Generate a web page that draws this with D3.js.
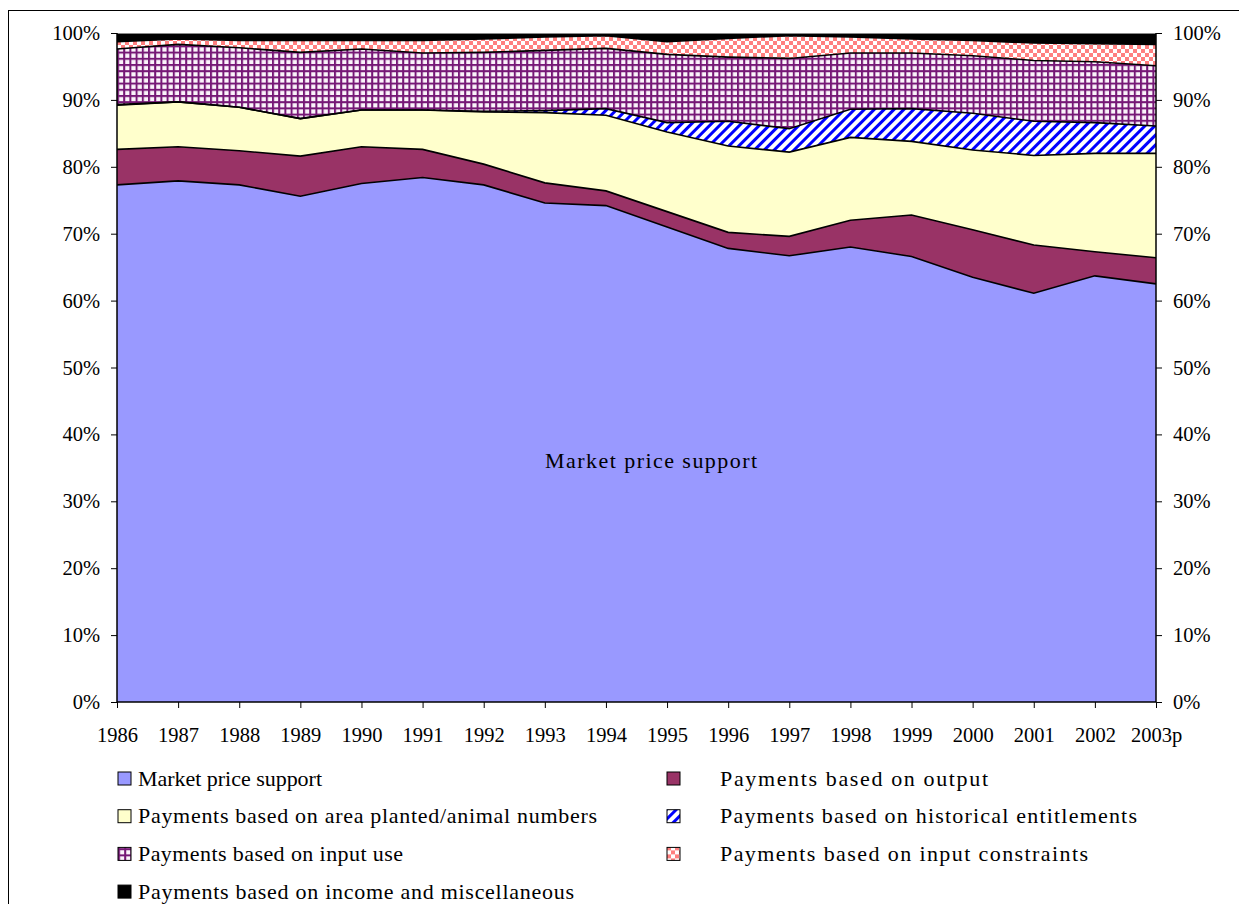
<!DOCTYPE html>
<html>
<head>
<meta charset="utf-8">
<script src="https://cdn.jsdelivr.net/npm/d3@7"></script>
<style>
  body { margin: 0; background: #fff; }
  svg { display: block; font-family: "Liberation Serif", "Times New Roman", serif; }
</style>
</head>
<body>
<script>
// categories
let years = ["1986", "1987", "1988", "1989", "1990", "1991", "1992", "1993", "1994",
    "1995", "1996", "1997", "1998", "1999", "2000", "2001", "2002", "2003p"];

// series values (% of total support)
let mps = [77.3, 77.9, 77.3, 75.6, 77.5, 78.4, 77.3, 74.6, 74.2, 71.0, 67.8, 66.7, 68.0, 66.6, 63.5, 61.1, 63.7, 62.5];
let output = [5.3, 5.1, 5.1, 6.0, 5.5, 4.2, 3.1, 3.0, 2.2, 2.3, 2.4, 2.9, 4.0, 6.2, 7.1, 7.2, 3.6, 3.9];
let area = [6.6, 6.7, 6.5, 5.6, 5.5, 5.9, 7.8, 10.5, 11.3, 11.9, 12.9, 12.6, 12.4, 11.0, 11.9, 13.4, 14.7, 15.6];
let hist = [0.1, 0, 0, 0, 0, 0, 0.1, 0.3, 1.0, 1.4, 3.7, 3.5, 4.2, 4.9, 5.5, 5.1, 4.6, 4.1];
let inputUse = [8.3, 8.6, 8.9, 9.9, 9.1, 8.5, 8.8, 9.0, 9.0, 10.2, 9.6, 10.5, 8.4, 8.3, 8.6, 9.1, 9.1, 9.0];
let inputConstr = [1.1, 0.8, 1.1, 1.8, 1.3, 1.9, 2.0, 2.0, 1.9, 1.9, 2.8, 3.4, 2.4, 2.1, 2.3, 2.6, 2.7, 3.2];
let incomeMisc = [1.3, 0.9, 1.1, 1.1, 1.1, 1.1, 0.9, 0.6, 0.4, 1.3, 0.8, 0.4, 0.6, 0.9, 1.1, 1.5, 1.6, 1.7];

let yTicks = [0, 0.1, 0.2, 0.3, 0.4, 0.5, 0.6, 0.7, 0.8, 0.9, 1];

let seriesNames = [
    "Market price support",
    "Payments based on output",
    "Payments based on area planted/animal numbers",
    "Payments based on historical entitlements",
    "Payments based on input use",
    "Payments based on input constraints",
    "Payments based on income and miscellaneous"
];
let seriesValues = [mps, output, area, hist, inputUse, inputConstr, incomeMisc];
let seriesFills = ["#9999ff", "#993366", "#ffffcc", "url(#pHist)", "url(#pInput)", "url(#pConstr)", "#000000"];
// rendered widths of the legend labels (the original font is set wider)
let legendWidths = [184, 268, 459, 417, 265, 368, 436];

let W = 1239, H = 904;
let margin = { top: 33, left: 117, right: 1239 - 1156, bottom: 904 - 702 };
let width = W - margin.left - margin.right;
let height = H - margin.top - margin.bottom;

let table = years.map(function (yr, i) {
    let row = { year: yr };
    seriesNames.forEach(function (n, k) { row[n] = seriesValues[k][i]; });
    return row;
});

let svg = d3.select("body").append("svg")
    .attr("width", W)
    .attr("height", H);

// patterns
let defs = svg.append("defs");

let pInput = defs.append("pattern").attr("id", "pInput")
    .attr("patternUnits", "userSpaceOnUse").attr("width", 6.2).attr("height", 6.2);
pInput.append("rect").attr("width", 6.2).attr("height", 6.2).attr("fill", "#fbf4fb");
pInput.append("rect").attr("width", 2).attr("height", 6.2).attr("fill", "#761876");
pInput.append("rect").attr("width", 6.2).attr("height", 2).attr("fill", "#761876");

let pConstr = defs.append("pattern").attr("id", "pConstr")
    .attr("patternUnits", "userSpaceOnUse").attr("width", 8).attr("height", 8);
pConstr.append("rect").attr("width", 8).attr("height", 8).attr("fill", "#ffffff");
pConstr.append("rect").attr("width", 4).attr("height", 4).attr("fill", "#ff7f7f");
pConstr.append("rect").attr("x", 4).attr("y", 4).attr("width", 4).attr("height", 4).attr("fill", "#ff7f7f");

let pHist = defs.append("pattern").attr("id", "pHist")
    .attr("patternUnits", "userSpaceOnUse").attr("width", 7).attr("height", 7)
    .attr("patternTransform", "rotate(45)");
pHist.append("rect").attr("width", 7).attr("height", 7).attr("fill", "#ffffff");
pHist.append("rect").attr("width", 3).attr("height", 7).attr("fill", "#0000ff");

// outer frame
svg.append("rect")
    .attr("x", 8.5).attr("y", 10.5)
    .attr("width", W).attr("height", H)
    .attr("fill", "none").attr("stroke", "#000").attr("stroke-width", 1);

let g = svg.append("g")
    .attr("transform", "translate(" + margin.left + "," + margin.top + ")");

let x = d3.scalePoint().domain(years).range([0, width]);
let y = d3.scaleLinear().domain([0, 1]).range([height, 0]);

let stack = d3.stack().keys(seriesNames).offset(d3.stackOffsetExpand);
let layers = stack(table);

let areaGen = d3.area()
    .x(function (d) { return x(d.data.year); })
    .y0(function (d) { return y(d[0]); })
    .y1(function (d) { return y(d[1]); });

let lineGen = d3.line()
    .x(function (d) { return x(d.data.year); })
    .y(function (d) { return y(d[1]); });

g.selectAll(".layer")
    .data(layers)
    .enter().append("path")
    .attr("class", "layer")
    .attr("d", areaGen)
    .attr("fill", function (d, i) { return seriesFills[i]; });

// black boundary lines between layers
g.selectAll(".edge")
    .data(layers.slice(0, 6))
    .enter().append("path")
    .attr("class", "edge")
    .attr("d", lineGen)
    .attr("fill", "none")
    .attr("stroke", "#000")
    .attr("stroke-width", 1.6);

// top edge of plot
g.append("line")
    .attr("x1", 0).attr("x2", width).attr("y1", 0.5).attr("y2", 0.5)
    .attr("stroke", "#888").attr("stroke-width", 1);

// axes
let pct = d3.format(".0%");
let yLeft = g.append("g")
    .call(d3.axisLeft(y).tickValues(yTicks).tickFormat(pct).tickSize(6).tickPadding(11));
let yRight = g.append("g")
    .attr("transform", "translate(" + width + ",0)")
    .call(d3.axisRight(y).tickValues(yTicks).tickFormat(pct).tickSize(6).tickPadding(11));
let xAxis = g.append("g")
    .attr("transform", "translate(0," + height + ")")
    .call(d3.axisBottom(x).tickSize(6).tickPadding(19));

[yLeft, yRight, xAxis].forEach(function (ax) {
    ax.select(".domain").attr("stroke", "#000").attr("stroke-width", 1.5);
    ax.selectAll(".tick line").attr("stroke", "#000");
    ax.selectAll("text")
        .attr("fill", "#000")
        .style("font-family", "'Liberation Serif', serif")
        .style("font-size", "20.5px");
});
yLeft.select(".domain").attr("d", "M0," + height + "V0");
yRight.select(".domain").attr("d", "M0," + height + "V0");
xAxis.select(".domain").attr("d", "M0,0H" + width);

// label inside the chart
g.append("text")
    .attr("x", x("1995") - 16)
    .attr("y", y(0.35))
    .attr("text-anchor", "middle")
    .attr("textLength", 212)
    .attr("lengthAdjust", "spacing")
    .style("font-size", "22px")
    .text("Market price support");

// legend
let legendOrder = [0, 1, 2, 3, 4, 5, 6];
let legend = svg.append("g");
let items = legend.selectAll(".item")
    .data(legendOrder)
    .enter().append("g")
    .attr("class", "item")
    .attr("transform", function (k, i) {
        let col = i % 2, row = Math.floor(i / 2);
        return "translate(" + (col === 0 ? 118 : 667) + "," + (779 + row * 37.7) + ")";
    });

items.append("rect")
    .attr("x", 0).attr("y", -7)
    .attr("width", 13).attr("height", 13)
    .attr("fill", function (k) { return seriesFills[k]; })
    .attr("stroke", "#000").attr("stroke-width", 1);

items.append("text")
    .attr("x", function (k, i) { return i % 2 === 0 ? 20 : 53; })
    .attr("y", 0)
    .attr("dy", "0.3em")
    .attr("textLength", function (k) { return legendWidths[k]; })
    .attr("lengthAdjust", "spacing")
    .style("font-size", "22px")
    .text(function (k) { return seriesNames[k]; });
</script>
</body>
</html>
